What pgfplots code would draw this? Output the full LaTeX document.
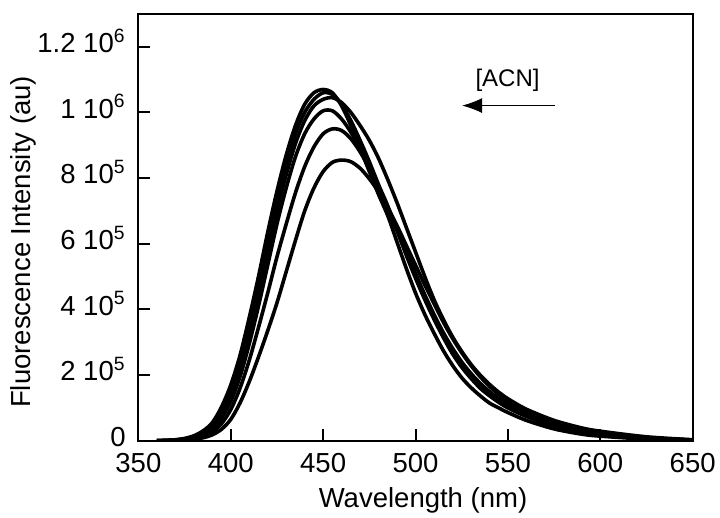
\documentclass[border=0pt]{standalone}
\usepackage{fontspec}
\setmainfont{Liberation Sans}
\usepackage{pgfplots}
\pgfplotsset{compat=1.18}
\usetikzlibrary{arrows.meta}
\begin{document}
\begin{tikzpicture}
\begin{axis}[
  scale only axis, width=277pt, height=213.25pt,
  xmin=350, xmax=650, ymin=0, ymax=1.3e6,
  axis line style={line width=1pt},
  xtick={350,400,450,500,550,600,650},
  xticklabels={350,400,450,500,550,600,650},
  ytick={0,2e5,4e5,6e5,8e5,1e6,1.2e6},
  yticklabels={0,2 10\textsuperscript{5},4 10\textsuperscript{5},6 10\textsuperscript{5},8 10\textsuperscript{5},1 10\textsuperscript{6},1.2 10\textsuperscript{6}},
  scaled y ticks=false,
  xtick pos=left, ytick pos=left,
  tick align=inside,
  major tick length=6pt,
  tick style={line width=1pt, black},
  tick label style={font=\fontsize{13.75}{15}\selectfont, inner sep=0pt},
  xticklabel style={anchor=center, yshift=-11.25pt},
  yticklabel style={anchor=base east, xshift=-6.2pt, yshift=-2.9pt},
  label style={font=\fontsize{13.75}{15}\selectfont},
  xlabel={Wavelength (nm)},
  ylabel={Fluorescence Intensity (au)},
  xlabel style={at={(axis description cs:0.5135,-0.156)}, anchor=base, inner sep=0pt},
  ylabel style={at={(axis description cs:-0.2076,0.466)}, anchor=center, inner sep=0pt},
  every axis plot post/.append style={black, solid, line width=1.8pt, mark=none, smooth},
]
\coordinate (sw) at (rel axis cs:0,0);
\coordinate (ne) at (rel axis cs:1,1);
% A
\addplot coordinates {(360,0)(365,1e3)(370,3e3)(375,7e3)(380,1.5e4)(385,3.0e4)(390,5.5e4)(395,1.03e5)(400,1.7e5)(405,2.6e5)(410,3.75e5)(415,5.0e5)(420,6.35e5)(425,7.6e5)(430,8.7e5)(435,9.6e5)(440,1.025e6)(445,1.06e6)(450,1.07e6)(455,1.06e6)(460,1.02e6)(465,9.6e5)(470,8.9e5)(475,8.2e5)(480,7.5e5)(485,6.85e5)(490,6.05e5)(495,5.25e5)(500,4.5e5)(505,3.85e5)(510,3.28e5)(515,2.75e5)(520,2.3e5)(525,1.92e5)(530,1.62e5)(535,1.37e5)(540,1.15e5)(545,1.0e5)(550,8.6e4)(560,6.2e4)(575,3.6e4)(590,2.0e4)(600,1.4e4)(625,5e3)(650,1.5e3)};
% B
\addplot coordinates {(360,0)(365,1e3)(370,2.5e3)(375,6e3)(380,1.3e4)(385,2.6e4)(390,4.8e4)(395,9e4)(400,1.55e5)(405,2.4e5)(410,3.5e5)(415,4.75e5)(420,6.05e5)(425,7.3e5)(430,8.4e5)(435,9.35e5)(440,1.0e6)(445,1.04e6)(450,1.06e6)(455,1.055e6)(460,1.025e6)(465,9.75e5)(470,9.15e5)(475,8.5e5)(480,7.8e5)(485,7.15e5)(490,6.4e5)(495,5.65e5)(500,4.95e5)(505,4.3e5)(510,3.7e5)(515,3.15e5)(520,2.65e5)(525,2.24e5)(530,1.9e5)(535,1.6e5)(540,1.37e5)(545,1.17e5)(550,1.0e5)(560,7.4e4)(575,4.4e4)(590,2.6e4)(600,1.8e4)(625,7e3)(650,2e3)};
% C
\addplot coordinates {(360,0)(365,1e3)(370,2e3)(375,5e3)(380,1.1e4)(385,2.2e4)(390,4.2e4)(395,8e4)(400,1.38e5)(405,2.2e5)(410,3.25e5)(415,4.45e5)(420,5.75e5)(425,7.0e5)(430,8.1e5)(435,9.05e5)(440,9.75e5)(445,1.02e6)(450,1.04e6)(455,1.045e6)(460,1.03e6)(465,1.0e6)(470,9.6e5)(475,9.15e5)(480,8.6e5)(485,7.95e5)(490,7.25e5)(495,6.5e5)(500,5.75e5)(505,5.0e5)(510,4.3e5)(515,3.7e5)(520,3.17e5)(525,2.72e5)(530,2.33e5)(535,2.0e5)(540,1.72e5)(545,1.48e5)(550,1.28e5)(560,9.6e4)(575,6.2e4)(590,3.9e4)(600,2.9e4)(625,1.2e4)(650,3e3)};
% D
\addplot coordinates {(360,0)(365,5e2)(370,1.5e3)(375,4e3)(380,9e3)(385,1.8e4)(390,3.5e4)(395,6.8e4)(400,1.2e5)(405,1.95e5)(410,2.95e5)(415,4.1e5)(420,5.35e5)(425,6.6e5)(430,7.7e5)(435,8.65e5)(440,9.35e5)(445,9.8e5)(450,1.005e6)(455,1.005e6)(460,9.8e5)(465,9.4e5)(470,8.9e5)(475,8.35e5)(480,7.75e5)(485,7.1e5)(490,6.45e5)(495,5.75e5)(500,5.1e5)(505,4.45e5)(510,3.85e5)(515,3.3e5)(520,2.82e5)(525,2.4e5)(530,2.05e5)(535,1.75e5)(540,1.5e5)(545,1.28e5)(550,1.1e5)(560,8.2e4)(575,5.0e4)(590,3.0e4)(600,2.1e4)(625,8e3)(650,2e3)};
% M
\addplot coordinates {(360,0)(365,3e2)(370,1e3)(375,3e3)(380,7e3)(385,1.4e4)(390,2.7e4)(395,5.2e4)(400,9.5e4)(405,1.6e5)(410,2.45e5)(415,3.45e5)(420,4.5e5)(425,5.6e5)(430,6.6e5)(435,7.55e5)(440,8.35e5)(445,8.95e5)(450,9.35e5)(455,9.5e5)(460,9.45e5)(465,9.2e5)(470,8.8e5)(475,8.3e5)(480,7.7e5)(485,7.05e5)(490,6.4e5)(495,5.7e5)(500,5.05e5)(505,4.4e5)(510,3.8e5)(515,3.25e5)(520,2.78e5)(525,2.37e5)(530,2.02e5)(535,1.72e5)(540,1.47e5)(545,1.26e5)(550,1.08e5)(560,8.0e4)(575,4.9e4)(590,2.9e4)(600,2.0e4)(625,8e3)(650,2e3)};
% L
\addplot coordinates {(360,0)(370,5e2)(375,2e3)(380,4.5e3)(385,9e3)(390,1.8e4)(395,3.5e4)(400,6.5e4)(405,1.15e5)(410,1.8e5)(415,2.55e5)(420,3.35e5)(425,4.2e5)(430,5.15e5)(435,6.1e5)(440,7.0e5)(445,7.7e5)(450,8.2e5)(455,8.48e5)(460,8.55e5)(465,8.5e5)(470,8.3e5)(475,7.98e5)(480,7.58e5)(485,7.1e5)(490,6.55e5)(495,5.95e5)(500,5.35e5)(505,4.75e5)(510,4.18e5)(515,3.62e5)(520,3.12e5)(525,2.68e5)(530,2.29e5)(535,1.95e5)(540,1.66e5)(545,1.41e5)(550,1.2e5)(560,8.8e4)(575,5.4e4)(590,3.2e4)(600,2.2e4)(625,9e3)(650,2.5e3)};
\node[font=\fontsize{12}{14}\selectfont, anchor=base, inner sep=0pt] at (axis cs:549.8,1.080e6) {[ACN]};
\draw[line width=0.5pt, -{Latex[length=10pt,width=7.5pt]}] (axis cs:575.5,1.021e6) -- (axis cs:525.2,1.021e6);
\end{axis}
\pgfresetboundingbox
\path ([shift={(-69.15pt,-38.25pt)}]sw) rectangle ([shift={(13.65pt,7pt)}]ne);
\end{tikzpicture}
\end{document}
